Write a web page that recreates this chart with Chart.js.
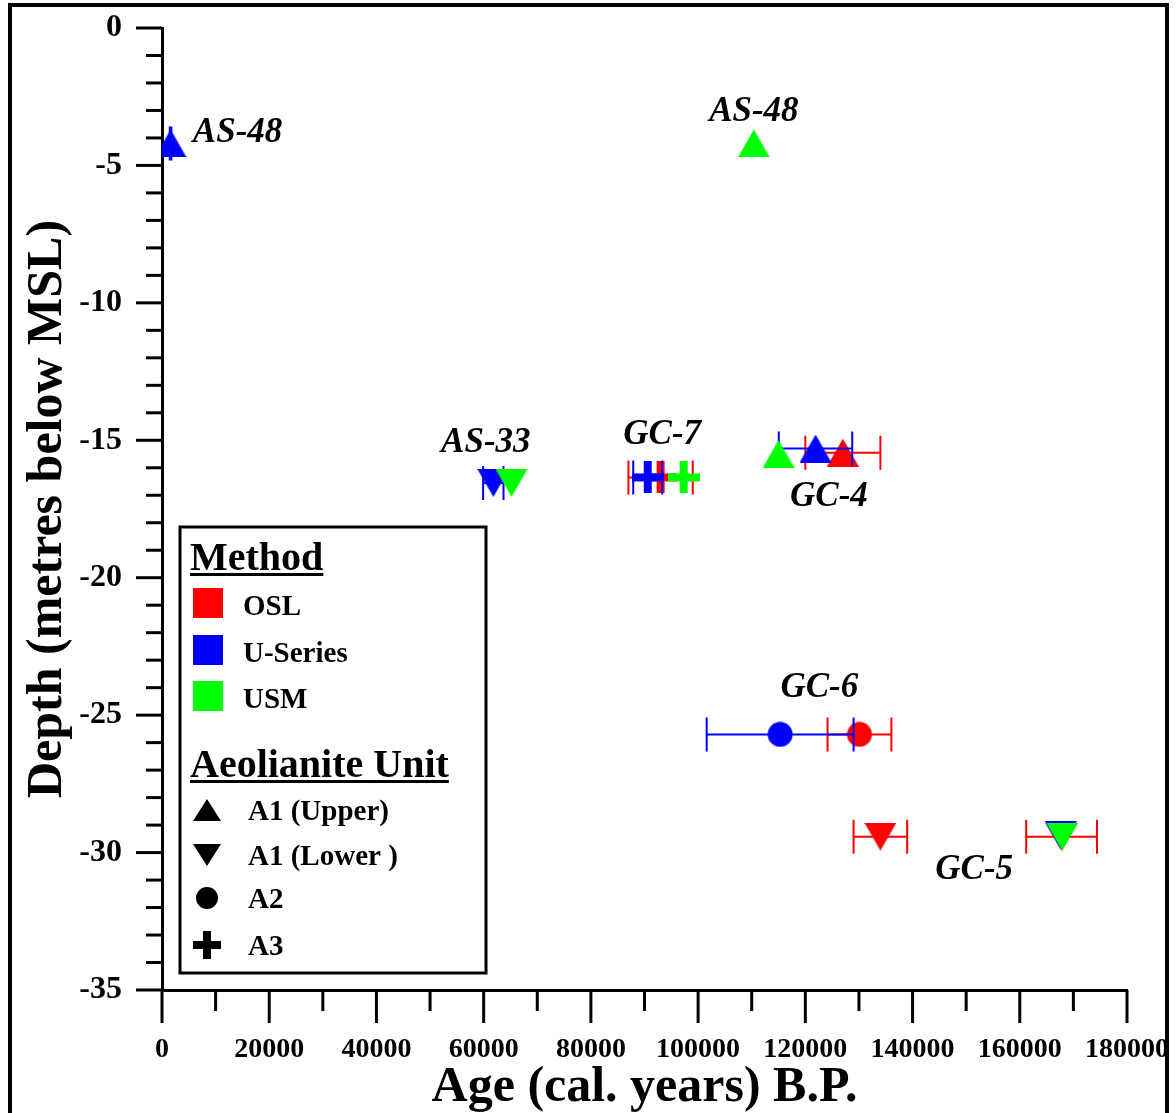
<!DOCTYPE html>
<html>
<head>
<meta charset="utf-8">
<script src="https://cdn.jsdelivr.net/npm/chart.js@4/dist/chart.umd.min.js"></script>
<style>
  html, body { margin: 0; padding: 0; background: #fff; }
  canvas { display: block; }
</style>
</head>
<body>
<canvas id="chart" width="1176" height="1113"></canvas>
<script>
// ---- Dating results: age (cal. years B.P.), 1-sigma age error, depth (m below MSL) ----
const methods = ['OSL', 'U-Series', 'USM'];
const units = ['A1 (Upper)', 'A1 (Lower )', 'A2', 'A3'];

const oslAge   = [127000, 93000, 130100, 134000, 167800];
const oslErr   = [7000, 6000, 5950, 5000, 6600];
const oslDepth = [-15.45, -16.35, -25.7, -29.42, -29.42];
const oslUnit  = ['A1 (Upper)', 'A3', 'A2', 'A1 (Lower )', 'A1 (Lower )'];

const useriesAge   = [1600, 61800, 90600, 121900, 115300, 167600];
const useriesErr   = [150, 1900, 2700, 6850, 13700, 0];
const useriesDepth = [-4.2, -16.55, -16.35, -15.3, -25.7, -29.37];
const useriesUnit  = ['A1 (Upper)', 'A1 (Lower )', 'A3', 'A1 (Upper)', 'A2', 'A1 (Lower )'];

const usmAge   = [110400, 65200, 97300, 115000, 167900];
const usmErr   = [0, 0, 0, 0, 0];
const usmDepth = [-4.2, -16.55, -16.35, -15.5, -29.42];
const usmUnit  = ['A1 (Upper)', 'A1 (Lower )', 'A3', 'A1 (Upper)', 'A1 (Lower )'];

// Sample site names, placed in data coordinates
const siteNames = ['AS-48', 'AS-48', 'AS-33', 'GC-7', 'GC-4', 'GC-6', 'GC-5'];
const siteAge   = [14100, 110400, 60400, 93300, 124400, 122600, 151500];
const siteDepth = [-4.15, -3.4, -15.43, -15.13, -17.39, -24.34, -30.95];

// Labelled ticks
const ageTickLabels   = [0, 20000, 40000, 60000, 80000, 100000, 120000, 140000, 160000, 180000];
const depthTickLabels = [0, -5, -10, -15, -20, -25, -30, -35];

// ---- styling ----
const SERIF = '"Liberation Serif", "Times New Roman", Times, serif';
const methodColors = { 'OSL': '#ff0000', 'U-Series': '#0000ff', 'USM': '#00ff00' };

// Marker glyphs drawn on small canvases, centred on their bounding box
function drawShape(ctx, unit, cx, cy, s) {
  ctx.beginPath();
  if (unit === 'A1 (Upper)') {
    ctx.moveTo(cx, cy - s.th / 2);
    ctx.lineTo(cx + s.tw / 2, cy + s.th / 2);
    ctx.lineTo(cx - s.tw / 2, cy + s.th / 2);
    ctx.closePath(); ctx.fill();
  } else if (unit === 'A1 (Lower )') {
    ctx.moveTo(cx - s.tw / 2, cy - s.th / 2);
    ctx.lineTo(cx + s.tw / 2, cy - s.th / 2);
    ctx.lineTo(cx, cy + s.th / 2);
    ctx.closePath(); ctx.fill();
  } else if (unit === 'A2') {
    ctx.arc(cx, cy, s.r, 0, Math.PI * 2);
    ctx.fill();
  } else {
    ctx.fillRect(cx - s.cw / 2, cy - s.cl / 2, s.cw, s.cl);
    ctx.fillRect(cx - s.cl / 2, cy - s.cw / 2, s.cl, s.cw);
  }
}
const markerSize = { tw: 32, th: 28, r: 12.5, cw: 8, cl: 32 };
function makeMarker(unit, color) {
  const c = document.createElement('canvas');
  let w, h;
  if (unit === 'A2') { w = h = 26; }
  else if (unit === 'A3') { w = h = 32; }
  else { w = 32; h = 28; }
  c.width = w; c.height = h;
  const g = c.getContext('2d');
  g.fillStyle = color;
  drawShape(g, unit, w / 2, h / 2, markerSize);
  return c;
}
const markers = {};
methods.forEach(m => {
  markers[m] = {};
  units.forEach(u => { markers[m][u] = makeMarker(u, methodColors[m]); });
});

function series(method, ages, errs, depths, unitList, order) {
  return {
    label: method,
    data: ages.map((a, i) => ({ x: a, y: depths[i] })),
    xErr: errs,
    borderColor: methodColors[method],
    backgroundColor: methodColors[method],
    pointStyle: ctx => markers[method][unitList[ctx.dataIndex]],
    pointRadius: 14,
    showLine: false,
    order: order
  };
}

// Horizontal age error bars, drawn just beneath each series' own markers
const errorBars = {
  id: 'errorBars',
  beforeDatasetDraw(chart, args) {
    const ds = chart.data.datasets[args.index];
    if (!ds.xErr) return;
    const { ctx, scales: { x, y } } = chart;
    ctx.save();
    ctx.strokeStyle = ds.borderColor;
    ctx.lineWidth = 2;
    ds.data.forEach((p, i) => {
      const e = ds.xErr[i];
      if (!e) return;
      const x0 = x.getPixelForValue(p.x - e);
      const x1 = x.getPixelForValue(p.x + e);
      const py = y.getPixelForValue(p.y);
      ctx.beginPath();
      ctx.moveTo(x0, py); ctx.lineTo(x1, py);
      ctx.moveTo(x0, py - 17); ctx.lineTo(x0, py + 17);
      ctx.moveTo(x1, py - 17); ctx.lineTo(x1, py + 17);
      ctx.stroke();
    });
    ctx.restore();
  }
};

// Outward tick marks: long ones at labelled values, short ones between
const tickMarks = {
  id: 'tickMarks',
  afterDraw(chart) {
    const { ctx, scales: { x, y } } = chart;
    ctx.save();
    ctx.strokeStyle = '#000';
    ctx.lineWidth = 3;
    const yl = chart.chartArea.left;
    y.ticks.forEach(t => {
      const py = y.getPixelForValue(t.value);
      const len = depthTickLabels.includes(t.value) ? 26 : 16;
      ctx.beginPath(); ctx.moveTo(yl - len, py); ctx.lineTo(yl, py); ctx.stroke();
    });
    const xb = chart.chartArea.bottom;
    x.ticks.forEach(t => {
      const px = x.getPixelForValue(t.value);
      const len = ageTickLabels.includes(t.value) ? 33 : 21;
      ctx.beginPath(); ctx.moveTo(px, xb); ctx.lineTo(px, xb + len); ctx.stroke();
    });
    ctx.restore();
  }
};

// Site names next to their samples
const siteLabels = {
  id: 'siteLabels',
  afterDatasetsDraw(chart) {
    const { ctx, scales: { x, y } } = chart;
    ctx.save();
    ctx.fillStyle = '#000';
    ctx.font = 'italic bold 35px ' + SERIF;
    ctx.textAlign = 'center';
    ctx.textBaseline = 'alphabetic';
    siteNames.forEach((n, i) => {
      ctx.fillText(n, x.getPixelForValue(siteAge[i]), y.getPixelForValue(siteDepth[i]));
    });
    ctx.restore();
  }
};

// Boxed key: colour = dating method, symbol = aeolianite unit
const keyBox = {
  id: 'keyBox',
  afterDraw(chart) {
    const { ctx } = chart;
    const L = chart.chartArea.left + 18, T = 527, R = L + 306, B = 973;
    ctx.save();
    ctx.fillStyle = '#fff';
    ctx.fillRect(L, T, R - L, B - T);
    ctx.strokeStyle = '#000';
    ctx.lineWidth = 3;
    ctx.strokeRect(L, T, R - L, B - T);

    ctx.fillStyle = '#000';
    ctx.textBaseline = 'alphabetic';
    ctx.textAlign = 'left';
    const heading = (txt, bx, by) => {
      ctx.font = 'bold 40px ' + SERIF;
      ctx.fillText(txt, bx, by);
      const w = ctx.measureText(txt).width;
      ctx.fillRect(bx, by + 3, w, 3);
    };
    heading('Method', L + 10, 570);
    ctx.font = 'bold 29px ' + SERIF;
    const rows = [615, 662, 708];
    methods.forEach((m, i) => {
      ctx.fillStyle = methodColors[m];
      ctx.fillRect(L + 13, rows[i] - 27, 30, 30);
      ctx.fillStyle = '#000';
      ctx.fillText(m, L + 63, rows[i]);
    });
    heading('Aeolianite Unit', L + 10, 777);
    ctx.font = 'bold 29px ' + SERIF;
    const urows = [820, 865, 908, 955];
    const keySize = { tw: 28, th: 22, r: 11, cw: 8, cl: 28 };
    units.forEach((u, i) => {
      ctx.fillStyle = '#000';
      drawShape(ctx, u, L + 27, urows[i] - 10, keySize);
      ctx.fillText(u, L + 68, urows[i]);
    });
    ctx.restore();
  }
};

// White page with an open-bottomed black frame
const pageFrame = {
  id: 'pageFrame',
  beforeDraw(chart) {
    const { ctx, width, height } = chart;
    ctx.save();
    ctx.fillStyle = '#fff';
    ctx.fillRect(0, 0, width, height);
    ctx.strokeStyle = '#000';
    ctx.lineWidth = 4;
    ctx.beginPath();
    ctx.moveTo(10, height); ctx.lineTo(10, 5); ctx.lineTo(1167, 5); ctx.lineTo(1167, height);
    ctx.stroke();
    ctx.restore();
  }
};

new Chart(document.getElementById('chart'), {
  type: 'scatter',
  data: {
    datasets: [
      series('OSL', oslAge, oslErr, oslDepth, oslUnit, 3),
      series('U-Series', useriesAge, useriesErr, useriesDepth, useriesUnit, 2),
      series('USM', usmAge, usmErr, usmDepth, usmUnit, 1)
    ]
  },
  options: {
    responsive: false,
    animation: false,
    devicePixelRatio: 1,
    layout: { padding: { left: 0, top: 28, right: 49, bottom: 0 } },
    plugins: { legend: { display: false }, tooltip: { enabled: false } },
    scales: {
      x: {
        type: 'linear',
        min: 0, max: 180000,
        afterFit: s => { s.height = 123; s.paddingLeft = 0; s.paddingRight = 0; },
        ticks: {
          stepSize: 10000,
          autoSkip: false,
          maxRotation: 0,
          padding: 43,
          color: '#000',
          font: { family: SERIF, size: 28, weight: 'bold' },
          callback: v => ageTickLabels.includes(v) ? String(v) : ''
        },
        grid: { drawOnChartArea: false, drawTicks: false },
        border: { display: true, color: '#000', width: 3 },
        title: {
          display: true,
          text: 'Age (cal. years) B.P.',
          color: '#000',
          font: { family: SERIF, size: 50, weight: 'bold' },
          padding: { top: 0, bottom: -5 }
        }
      },
      y: {
        type: 'linear',
        min: -35, max: 0,
        afterFit: s => { s.width = 162; s.paddingTop = 0; s.paddingBottom = 0; },
        ticks: {
          stepSize: 1,
          autoSkip: false,
          padding: 40,
          color: '#000',
          font: { family: SERIF, size: 32, weight: 'bold' },
          callback: v => depthTickLabels.includes(v) ? String(v) : ''
        },
        grid: { drawOnChartArea: false, drawTicks: false },
        border: { display: true, color: '#000', width: 3 },
        title: {
          display: true,
          text: 'Depth (metres below MSL)',
          color: '#000',
          font: { family: SERIF, size: 50, weight: 'bold' },
          padding: { top: 18, bottom: 0 }
        }
      }
    }
  },
  plugins: [pageFrame, errorBars, siteLabels, tickMarks, keyBox]
});
</script>
</body>
</html>
